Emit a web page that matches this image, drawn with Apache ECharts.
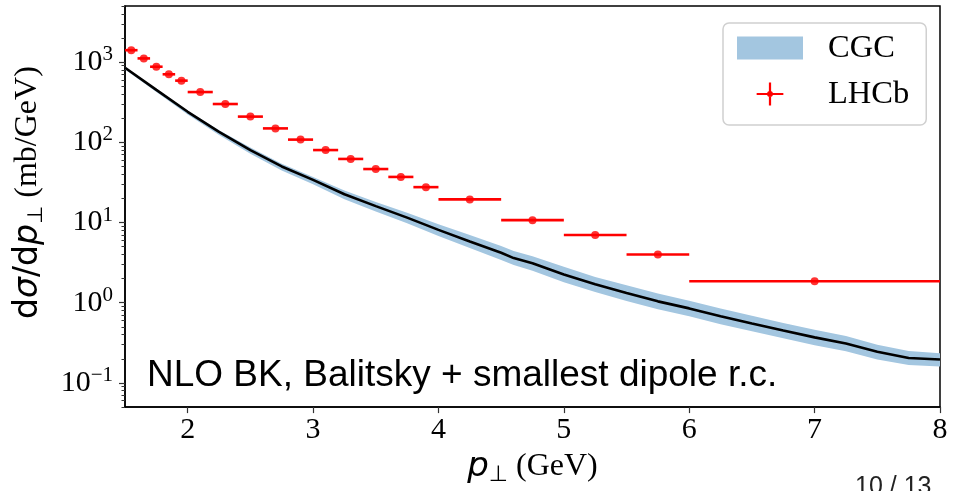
<!DOCTYPE html>
<html><head><meta charset="utf-8">
<script src="https://cdn.jsdelivr.net/npm/echarts@6/dist/echarts.min.js"></script>
<style>html,body{margin:0;padding:0;background:#fff;}#chart{width:953px;height:491px;}</style>
</head><body><div id="chart"></div>
<script>
// CGC (NLO BK) band and central curve
const cgcX = [1.5, 1.75, 2.0, 2.25, 2.5, 2.75, 3.0, 3.25, 3.5, 3.75, 4.0, 4.25, 4.5, 4.6, 4.75, 5.0, 5.25, 5.5, 5.75, 6.0, 6.25, 6.5, 6.75, 7.0, 7.25, 7.5, 7.75, 8.0];
const cgcCentral = [850, 450, 240, 135, 80, 50, 34, 22.5, 16, 11.5, 8.1, 5.8, 4.2, 3.6, 3.1, 2.25, 1.7, 1.32, 1.04, 0.85, 0.68, 0.55, 0.45, 0.37, 0.31, 0.245, 0.205, 0.196];
const cgcUpper = [870, 460, 248, 141, 86, 54, 37, 25, 18, 13.2, 9.5, 7.0, 5.1, 4.4, 3.8, 2.8, 2.1, 1.65, 1.3, 1.06, 0.85, 0.69, 0.56, 0.46, 0.385, 0.30, 0.25, 0.235];
const cgcLower = [810, 425, 222, 123, 72, 44.5, 30, 19.5, 13.7, 9.8, 6.8, 4.8, 3.4, 2.95, 2.5, 1.8, 1.36, 1.05, 0.83, 0.68, 0.54, 0.44, 0.36, 0.295, 0.248, 0.196, 0.167, 0.16];
// LHCb data
const lhcbX = [1.55, 1.65, 1.75, 1.85, 1.95, 2.1, 2.3, 2.5, 2.7, 2.9, 3.1, 3.3, 3.5, 3.7, 3.9, 4.25, 4.75, 5.25, 5.75, 7.0];
const lhcbY = [1406, 1111, 875, 704, 587, 423, 300, 209, 149, 108, 80, 62, 46.4, 37, 27.6, 19.4, 10.7, 7.0, 4.0, 1.85];
const lhcbXErr = [0.05, 0.05, 0.05, 0.05, 0.05, 0.1, 0.1, 0.1, 0.1, 0.1, 0.1, 0.1, 0.1, 0.1, 0.1, 0.25, 0.25, 0.25, 0.25, 1.0];
// ticks
const xTicks = [2, 3, 4, 5, 6, 7, 8];
const yMajorTicks = [0.1, 1, 10, 100, 1000];
const yMinorTicks = [0.05, 0.06, 0.07, 0.08, 0.09, 0.2, 0.3, 0.4, 0.5, 0.6, 0.7, 0.8, 0.9, 2, 3, 4, 5, 6, 7, 8, 9, 20, 30, 40, 50, 60, 70, 80, 90, 200, 300, 400, 500, 600, 700, 800, 900, 2000, 3000, 4000, 5000];

const bandColor = '#a3c6e0';
const red = '#ff0000';
const serif = "'Liberation Serif','Times New Roman',serif";
const sans = "'DejaVu Sans',sans-serif";

const chart = echarts.init(document.getElementById('chart'), null, {renderer: 'canvas'});
const yAxisBase = {type: 'log', logBase: 10, min: 0.05, max: 5000, gridIndex: 0, splitLine: {show: false}};
chart.setOption({
  animation: false,
  backgroundColor: '#fff',
  grid: {left: 125, top: 6, width: 815, height: 406, show: true, borderColor: '#000', borderWidth: 1.5, backgroundColor: 'transparent'},
  xAxis: {
    type: 'value', min: 1.5, max: 8,
    axisLine: {show: true, onZero: false, lineStyle: {color: '#000', width: 1.5}},
    axisTick: {show: true, customValues: xTicks, length: 6, lineStyle: {color: '#333', width: 1.2}},
    axisLabel: {customValues: xTicks, fontFamily: serif, fontSize: 30, color: '#000', margin: 8},
    splitLine: {show: false},
    name: '{p|p}{sub|⊥}{g| (GeV)}',
    nameLocation: 'middle', nameGap: 40,
    nameTextStyle: {rich: {
      p: {fontFamily: sans, fontStyle: 'italic', fontSize: 34, color: '#000', lineHeight: 38, verticalAlign: 'middle'},
      sub: {fontFamily: sans, fontSize: 22, color: '#000', lineHeight: 14, verticalAlign: 'bottom'},
      g: {fontFamily: serif, fontSize: 32, color: '#000', lineHeight: 38, verticalAlign: 'middle'}
    }}
  },
  yAxis: [
    Object.assign({}, yAxisBase, {
      axisLine: {show: true, lineStyle: {color: '#000', width: 1.5}},
      axisTick: {show: true, customValues: yMajorTicks, length: 6, lineStyle: {color: '#333', width: 1.2}},
      axisLabel: {
        customValues: yMajorTicks, margin: 12,
        formatter: function (v) {
          const e = Math.round(Math.log10(v));
          return '{b|10}{s|' + (e < 0 ? '\u2212' + (-e) : e) + '}';
        },
        rich: {
          b: {fontFamily: serif, fontSize: 30, color: '#000', lineHeight: 36, verticalAlign: 'middle'},
          s: {fontFamily: serif, fontSize: 21, color: '#000', lineHeight: 17, verticalAlign: 'top'}
        }
      },
      name: '{m|d}{i|σ}{m|/d}{i|p}{sub|⊥}{g| (mb/GeV)}',
      nameLocation: 'middle', nameRotate: 90, nameGap: 78,
      nameTextStyle: {padding: [0, 0, 0, 28], rich: {
        m: {fontFamily: sans, fontSize: 33, color: '#000', lineHeight: 38, verticalAlign: 'middle'},
        i: {fontFamily: sans, fontStyle: 'italic', fontSize: 33, color: '#000', lineHeight: 38, verticalAlign: 'middle'},
        sub: {fontFamily: sans, fontSize: 21, color: '#000', lineHeight: 13, verticalAlign: 'bottom'},
        g: {fontFamily: serif, fontSize: 32, color: '#000', lineHeight: 38, verticalAlign: 'middle'}
      }}
    }),
    Object.assign({}, yAxisBase, {
      position: 'left', offset: 0,
      axisLine: {show: false},
      axisTick: {show: true, customValues: yMinorTicks, length: 3.5, lineStyle: {color: '#333', width: 1}},
      axisLabel: {show: false}
    })
  ],
  legend: {
    orient: 'vertical', left: 723, top: 23,
    padding: [5, 17, 11, 14], itemGap: 6,
    itemWidth: 66, itemHeight: 23,
    backgroundColor: '#fff', borderColor: '#d0d0d0', borderWidth: 1.5, borderRadius: 6,
    selectedMode: false,
    textStyle: {fontFamily: serif, fontSize: 32.5, color: '#000', lineHeight: 40, padding: [0, 0, 0, 20]},
    data: [
      {name: 'CGC', icon: 'rect', itemStyle: {color: bandColor}},
      {name: 'LHCb', icon: 'path://M0,11 L0,12 Z M66,11 L66,12 Z M15,10 L51,10 L51,13 L15,13 Z M31.5,-4 L34.5,-4 L34.5,27 L31.5,27 Z M29,11.5 A4,4 0 1,1 37,11.5 A4,4 0 1,1 29,11.5 Z', itemStyle: {color: red}}
    ]
  },
  graphic: [
    {type: 'text', left: 147, top: 357, z: 100, style: {text: 'NLO BK, Balitsky + smallest dipole r.c.', fontFamily: "'Liberation Sans',Arial,sans-serif", fontSize: 37, fill: '#000'}},
    {type: 'text', left: 855, top: 475, z: 100, style: {text: '10 / 13', fontFamily: "'Liberation Sans',Arial,sans-serif", fontSize: 25, fill: '#222'}}
  ],
  series: [
    {
      name: 'CGC', type: 'custom', xAxisIndex: 0, yAxisIndex: 0, clip: true, z: 1,
      itemStyle: {color: bandColor},
      encode: {x: 0, y: [1, 2]},
      data: cgcX.map((x, i) => [x, cgcLower[i], cgcUpper[i]]),
      renderItem: function (params, api) {
        if (params.dataIndex !== 0) return null;
        const up = cgcX.map((x, i) => api.coord([x, cgcUpper[i]]));
        const lo = cgcX.map((x, i) => api.coord([x, cgcLower[i]])).reverse();
        return {type: 'polygon', shape: {points: up.concat(lo)}, style: {fill: bandColor}};
      }
    },
    {
      name: 'CGC central', type: 'line', xAxisIndex: 0, yAxisIndex: 0, z: 3,
      showSymbol: false, symbol: 'none', smooth: false,
      lineStyle: {color: '#000', width: 2.6},
      data: cgcX.map((x, i) => [x, cgcCentral[i]])
    },
    {
      name: 'LHCb', type: 'custom', xAxisIndex: 0, yAxisIndex: 0, clip: true, z: 4,
      itemStyle: {color: red},
      encode: {x: 0, y: 1},
      data: lhcbX.map((x, i) => [x, lhcbY[i], lhcbXErr[i]]),
      renderItem: function (params, api) {
        const x = api.value(0), y = api.value(1), e = api.value(2);
        const a = api.coord([x - e, y]), b = api.coord([x + e, y]);
        return {type: 'line', shape: {x1: a[0], y1: a[1], x2: b[0], y2: b[1]}, style: {stroke: red, lineWidth: 2.6}};
      }
    },
    {
      name: 'LHCb', type: 'scatter', xAxisIndex: 0, yAxisIndex: 0, z: 5,
      symbol: 'circle', symbolSize: 8,
      itemStyle: {color: red},
      data: lhcbX.map((x, i) => [x, lhcbY[i]])
    }
  ]
});
</script>
</body></html>
